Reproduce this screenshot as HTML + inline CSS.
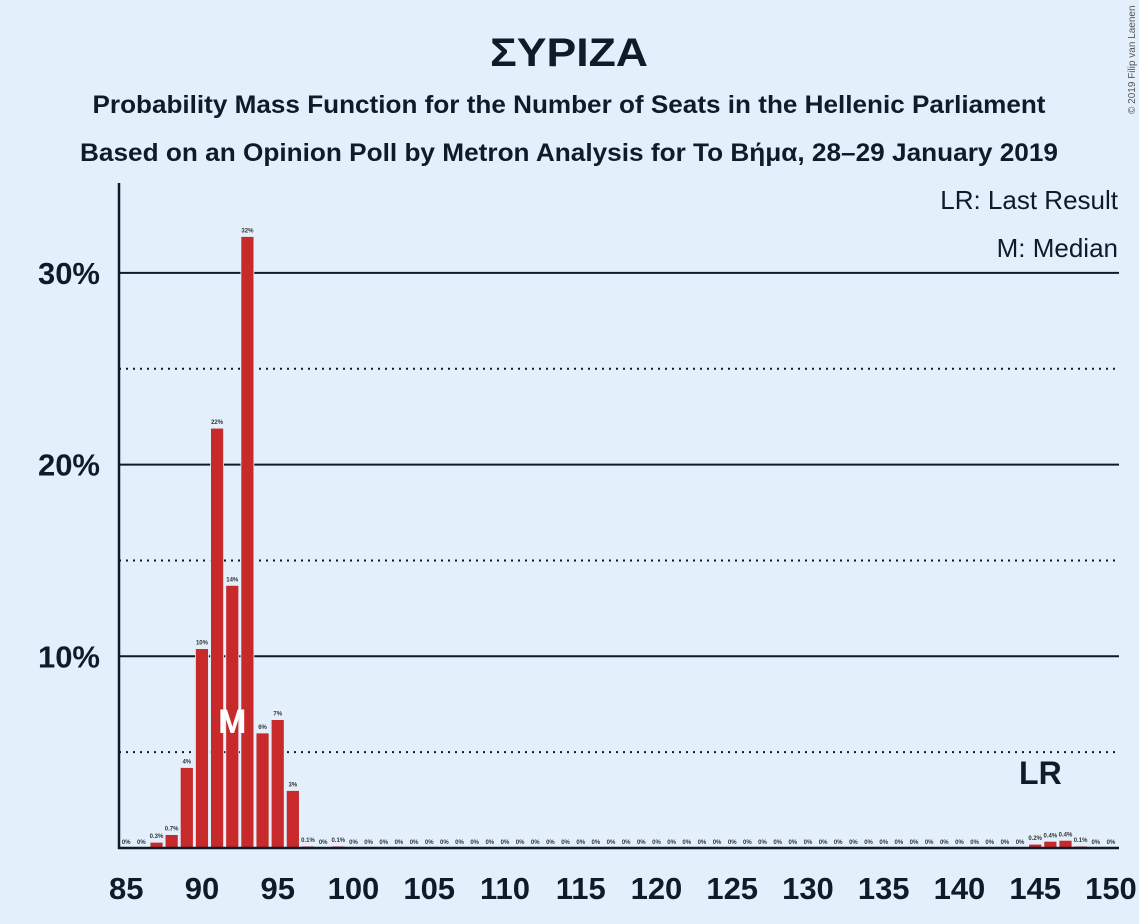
<!DOCTYPE html>
<html><head><meta charset="utf-8"><style>
html,body{margin:0;padding:0;background:#e3f0fc;}
svg{display:block;font-family:"Liberation Sans",sans-serif;}
</style></head><body>
<svg id="chart" width="1139" height="924" viewBox="0 0 1139 924">
<rect width="1139" height="924" fill="#e3f0fc"/>
<text x="569" y="66" text-anchor="middle" font-size="40" font-weight="bold" fill="#0d1b2a" textLength="158" lengthAdjust="spacingAndGlyphs">ΣΥΡΙΖΑ</text>
<text x="569" y="113" text-anchor="middle" font-size="25" font-weight="bold" fill="#0d1b2a" textLength="953" lengthAdjust="spacingAndGlyphs">Probability Mass Function for the Number of Seats in the Hellenic Parliament</text>
<text x="569" y="161" text-anchor="middle" font-size="25" font-weight="bold" fill="#0d1b2a" textLength="978" lengthAdjust="spacingAndGlyphs">Based on an Opinion Poll by Metron Analysis for To Βήμα, 28–29 January 2019</text>
<text transform="translate(1135,114) rotate(-90)" font-size="10" fill="#555">© 2019 Filip van Laenen</text>
<text x="1118" y="209" text-anchor="end" font-size="26" fill="#0d1b2a">LR: Last Result</text>
<text x="1118" y="257" text-anchor="end" font-size="26" fill="#0d1b2a">M: Median</text>
<g id="grid"></g>
<g id="bars"></g>
<g id="labels"></g>
<g id="axes"></g>
</svg>
<script>
const seats = [];
for (let s = 85; s <= 150; s++) seats.push(s);
const probs = [0,0,0.3,0.7,4.2,10.4,21.9,13.7,31.9,6.0,6.7,3.0,0.1,0,0.1,0,0,0,0,0,0,0,0,0,0,0,0,0,0,0,0,0,0,0,0,0,0,0,0,0,0,0,0,0,0,0,0,0,0,0,0,0,0,0,0,0,0,0,0,0,0.2,0.35,0.4,0.1,0,0];
const probLabels = ["0%","0%","0.3%","0.7%","4%","10%","22%","14%","32%","6%","7%","3%","0.1%","0%","0.1%","0%","0%","0%","0%","0%","0%","0%","0%","0%","0%","0%","0%","0%","0%","0%","0%","0%","0%","0%","0%","0%","0%","0%","0%","0%","0%","0%","0%","0%","0%","0%","0%","0%","0%","0%","0%","0%","0%","0%","0%","0%","0%","0%","0%","0%","0.2%","0.4%","0.4%","0.1%","0%","0%"];
const yTicks = [10,20,30];
const yTickLabels = ["10%","20%","30%"];
const yMinor = [5,15,25];
const xTicks = [85,90,95,100,105,110,115,120,125,130,135,140,145,150];
const medianSeat = 92;
const lastResultSeat = 146;

const NS = "http://www.w3.org/2000/svg";
const X0 = 126.2, DX = 15.15, Y0 = 848, DY = 19.17;
const xs = s => X0 + (s - 85) * DX;
const ys = v => Y0 - v * DY;
function mk(tag, attrs, parent, text) {
  const e = document.createElementNS(NS, tag);
  for (const k in attrs) e.setAttribute(k, attrs[k]);
  if (text !== undefined) e.textContent = text;
  document.getElementById(parent).appendChild(e);
  return e;
}
yMinor.forEach(v => {
  const l = mk("line", {x1:119, x2:1119, y1:ys(v), y2:ys(v), stroke:"#0d1b2a", "stroke-width":2, "stroke-dasharray":"2,5"}, "grid");
  
  
});
yTicks.forEach((v, i) => {
  const l = mk("line", {x1:119, x2:1119, y1:ys(v), y2:ys(v), stroke:"#0d1b2a", "stroke-width":2}, "grid");
  
  
  const t = mk("text", {x:100, y:ys(v)+11, "text-anchor":"end", "font-size":31, "font-weight":"bold", fill:"#0d1b2a"}, "axes", yTickLabels[i]);
  
  
});
seats.forEach((s, i) => {
  const v = probs[i];
  if (v > 0) {
    const r = mk("rect", {x:xs(s)-6.5, y:ys(v), width:13, height:v*DY, fill:"#c8292b", stroke:"#e3f0fc", "stroke-width":0.8}, "bars");
    
    
  }
  const t = mk("text", {x:xs(s), y:ys(v)-4, "text-anchor":"middle", "font-size":6, "font-weight":"bold", fill:"#333"}, "labels", probLabels[i]);
  
  
});
const m = mk("text", {x:xs(medianSeat), y:733, "text-anchor":"middle", "font-size":34, "font-weight":"bold", fill:"#ffffff"}, "labels", "M");


const lr = mk("text", {x:xs(lastResultSeat)-10, y:784, "text-anchor":"middle", "font-size":32, "font-weight":"bold", fill:"#0d1b2a"}, "labels", "LR");


const ya = mk("line", {x1:119, x2:119, y1:183, y2:849, stroke:"#0d1b2a", "stroke-width":2.5}, "axes");


const xa = mk("line", {x1:118, x2:1119, y1:848, y2:848, stroke:"#0d1b2a", "stroke-width":2.5}, "axes");


xTicks.forEach(s => {
  const t = mk("text", {x:xs(s), y:899, "text-anchor":"middle", "font-size":31, "font-weight":"bold", fill:"#0d1b2a"}, "axes", String(s));
  
  
});
</script>
</body></html>
